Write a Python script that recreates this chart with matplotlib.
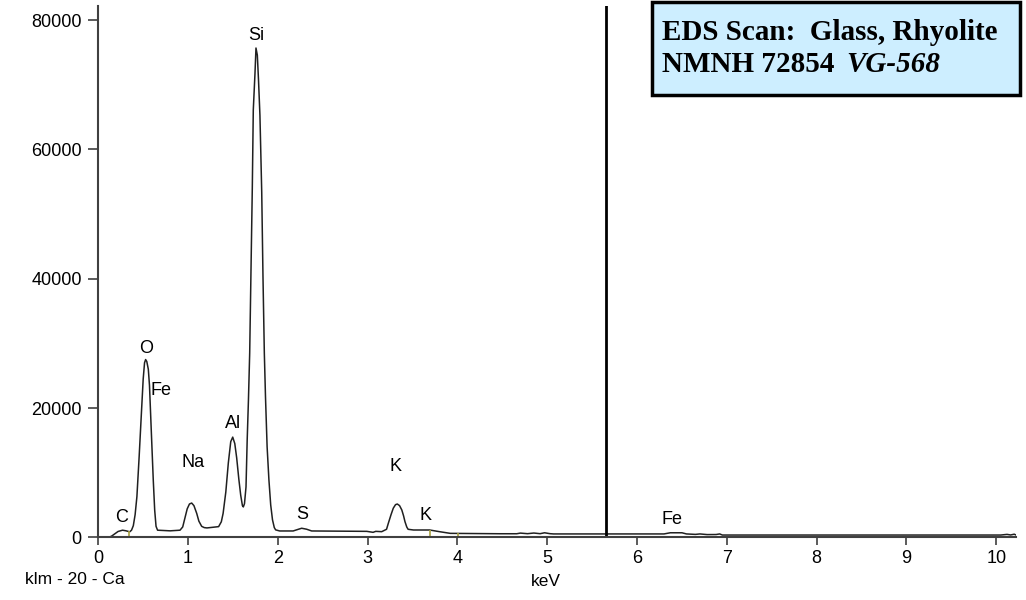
import matplotlib
matplotlib.use('Agg')
import matplotlib.pyplot as plt
from matplotlib.patches import Rectangle

# spectrum (keV, counts)
energy_kev = [0.00, 0.12, 0.15, 0.18, 0.22, 0.27, 0.31, 0.35, 0.37, 0.39, 0.41, 0.43,
              0.455, 0.48, 0.50, 0.515, 0.527, 0.54, 0.557, 0.57, 0.59, 0.612, 0.628,
              0.643, 0.66, 0.80, 0.91, 0.94, 0.965, 0.99, 1.015, 1.04, 1.065, 1.096,
              1.12, 1.151, 1.18, 1.21, 1.34, 1.37, 1.39, 1.42, 1.448, 1.475, 1.497,
              1.52, 1.541, 1.565, 1.586, 1.605, 1.615, 1.628, 1.645, 1.658, 1.672,
              1.686, 1.700, 1.715, 1.726, 1.745, 1.756, 1.771, 1.784, 1.80, 1.82, 1.834,
              1.849, 1.862, 1.88, 1.90, 1.92, 1.94, 1.96, 1.975, 2.02, 2.17, 2.23,
              2.265, 2.32, 2.376, 2.99, 3.06, 3.09, 3.156, 3.21, 3.23, 3.26, 3.285,
              3.31, 3.33, 3.355, 3.38, 3.40, 3.415, 3.435, 3.45, 3.51, 3.69, 3.80,
              3.92, 4.47, 4.66, 4.70, 4.78, 4.85, 4.92, 4.97, 5.03, 5.07, 5.65, 6.30,
              6.37, 6.50, 6.55, 6.65, 6.70, 6.78, 6.88, 6.92, 6.95, 9.95, 10.05, 10.12,
              10.16, 10.20, 10.22]
counts = [0, 0, 200, 500, 900, 1100, 1000, 850, 1100, 1800, 3500, 6300,
          12500, 19200, 24500, 27000, 27500, 27200, 26000, 23500, 16500, 8900, 4200,
          1700, 1100, 1000, 1100, 1600, 3000, 4400, 5150, 5300, 4900, 3700,
          2500, 1700, 1500, 1450, 1650, 2400, 3700, 7000, 11500, 14800, 15500,
          14500, 12300, 9000, 6500, 4900, 4700, 5200, 7800, 15000, 21200,
          28500, 40900, 54000, 66100, 71800, 75700, 74600, 70800, 65300, 53400, 40300,
          28500, 21700, 14000, 8900, 5000, 2700, 1500, 1150, 980, 980, 1250,
          1400, 1250, 980, 920, 770, 920, 870, 1240, 2170, 3500, 4500,
          5050, 5150, 4900, 4230, 3300, 2430, 1600, 1240, 1130, 1130, 870,
          610, 550, 550, 650, 560, 660, 560, 700, 560, 520, 520, 520,
          700, 700, 520, 450, 520, 420, 430, 520, 350, 350, 350, 450,
          360, 480, 350]

peak_names = ['Si', 'O', 'Fe', 'Al', 'Na', 'C', 'S', 'K', 'K', 'Fe']
peak_x = [1.758, 0.531, 0.698, 1.50, 1.054, 0.254, 2.268, 3.315, 3.64, 6.39]
peak_y = [77700, 29280, 22780, 17530, 11650, 3140, 3600, 11030, 3450, 2680]

marker_kev = [0.34, 3.69, 4.01]
marker_top = [900, 1130, 600]

cursor_kev = 5.65
x_ticks = [0, 1, 2, 3, 4, 5, 6, 7, 8, 9, 10]
y_ticks = [0, 20000, 40000, 60000, 80000]

fig = plt.figure(figsize=(10.26, 6.0), dpi=100)
ax = fig.add_axes([98.3 / 1026, 62.7 / 600, (1016 - 98.3) / 1026, (537.3 - 6) / 600])

ax.plot(energy_kev, counts, color='#202020', lw=1.1)
ax.vlines(marker_kev, 0, marker_top, color='#a8a040', lw=1.2)
ax.axvline(cursor_kev, color='black', lw=2)

sans = ['Liberation Sans', 'DejaVu Sans']
for name, x, y in zip(peak_names, peak_x, peak_y):
    ax.text(x, y, name, ha='center', va='center', fontsize=13, family=sans)

ax.set_xlim(0, 10.22)
ax.set_ylim(0, 82200)
ax.set_xticks(x_ticks)
ax.set_yticks(y_ticks)
ax.set_xticklabels([str(t) for t in x_ticks], family=sans, fontsize=13)
ax.set_yticklabels([str(t) for t in y_ticks], family=sans, fontsize=13)
ax.tick_params(axis='y', length=7, width=1.2, pad=5, color='#404040')
ax.tick_params(axis='x', length=6, width=1.2, pad=3, color='#404040')
for s in ['top', 'right']:
    ax.spines[s].set_visible(False)
for s in ['left', 'bottom']:
    ax.spines[s].set_color('#404040')
    ax.spines[s].set_linewidth(1.5)

fig.text(75 / 1026, 1 - 580 / 600, 'klm - 20 - Ca', ha='center', va='center',
         fontsize=12.5, family=sans)
fig.text(546 / 1026, 1 - 582 / 600, 'keV', ha='center', va='center',
         fontsize=12.5, family=sans)

# title box
fig.add_artist(Rectangle((652 / 1026, 1 - 95 / 600), (1020 - 652) / 1026, 93 / 600,
                         transform=fig.transFigure, facecolor='#cdeeff',
                         edgecolor='black', lw=2.5))
serif = ['Liberation Serif', 'DejaVu Serif']
fig.text(662 / 1026, 1 - 32 / 600, 'EDS Scan:  Glass, Rhyolite', va='center',
         fontsize=21, fontweight='bold', family=serif)
fig.text(662 / 1026, 1 - 64 / 600, 'NMNH 72854', va='center',
         fontsize=21, fontweight='bold', family=serif)
fig.text(846 / 1026, 1 - 64 / 600, 'VG-568', va='center',
         fontsize=21, fontweight='bold', fontstyle='italic', family=serif)

plt.savefig('out.png', dpi=100)
plt.close()
